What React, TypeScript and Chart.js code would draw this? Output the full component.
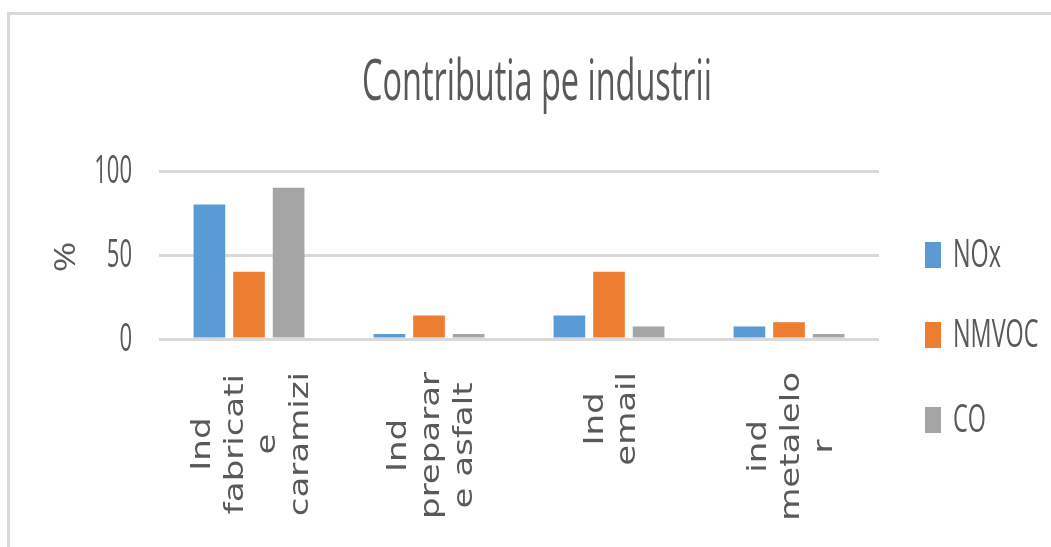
import React, { useEffect, useRef } from "react";
import { Chart, registerables } from "chart.js";

Chart.register(...registerables);

const categories: string[][] = [
  ["Ind", "fabricati", "e", "caramizi"],
  ["Ind", "preparar", "e asfalt"],
  ["Ind", "email"],
  ["ind", "metalelo", "r"],
];
const seriesNames = ["NOx", "NMVOC", "CO"];
const noxValues = [80, 3, 14, 7.5];
const nmvocValues = [40, 14, 40, 10];
const coValues = [90, 3, 7.5, 3];
const yTicks = [0, 50, 100];
const colors = ["#5b9bd5", "#ed7d31", "#a5a5a5"];
const titleText = "Contributia pe industrii";
const yAxisTitle = "%";

const TEXT = "#595959";

const textPlugin = {
  id: "customText",
  afterDraw(chart: any) {
    const ctx = chart.ctx as CanvasRenderingContext2D;
    const yScale = chart.scales.y;
    const xScale = chart.scales.x;
    ctx.save();
    ctx.fillStyle = TEXT;

    // Title (condensed)
    ctx.font = "400 56px 'Open Sans'";
    const tw = ctx.measureText(titleText).width;
    const tsx = 350 / tw;
    ctx.save();
    ctx.translate(537, 100);
    ctx.scale(tsx, 1);
    ctx.textAlign = "center";
    ctx.textBaseline = "alphabetic";
    ctx.fillText(titleText, 0, 0);
    ctx.restore();

    // Y tick labels
    ctx.font = "400 38px 'Open Sans'";
    yTicks.forEach((t) => {
      const py = yScale.getPixelForValue(t);
      ctx.save();
      ctx.translate(132, py);
      ctx.scale(0.58, 1);
      ctx.textAlign = "right";
      ctx.textBaseline = "middle";
      ctx.fillText(String(t), 0, 1);
      ctx.restore();
    });

    // Y axis title
    ctx.save();
    ctx.font = "400 37px 'Open Sans'";
    ctx.translate(67, 0);
    ctx.rotate(-Math.PI / 2);
    ctx.scale(1, 0.8);
    ctx.textAlign = "center";
    ctx.textBaseline = "middle";
    ctx.fillText(yAxisTitle, -257, 0);
    ctx.restore();

    // X labels (rotated, multi-line, centered lines)
    ctx.font = "34px 'DejaVu Sans'";
    const lineGap = 32.7;
    const blockTop = 372;
    categories.forEach((lines, ci) => {
      const cx = xScale.getPixelForValue(ci);
      const maxLen = Math.max(...lines.map((l) => ctx.measureText(l).width));
      const cy = blockTop + maxLen / 2;
      const n = lines.length;
      lines.forEach((line, li) => {
        const bx = cx + (li - (n - 1) / 2) * lineGap + 10;
        ctx.save();
        ctx.translate(bx, 0);
        ctx.rotate(-Math.PI / 2);
        ctx.scale(1, 0.8);
        ctx.textAlign = "center";
        ctx.textBaseline = "alphabetic";
        ctx.fillText(line, -cy, 0);
        ctx.restore();
      });
    });

    // Legend
    const legendY = [255, 335, 420];
    chart.data.datasets.forEach((ds: any, i: number) => {
      ctx.fillStyle = ds.backgroundColor;
      ctx.fillRect(925, legendY[i] - 13, 16, 26);
      ctx.fillStyle = TEXT;
      ctx.save();
      ctx.font = "400 39px 'Open Sans'";
      ctx.translate(953, legendY[i]);
      ctx.scale(0.6, 1);
      ctx.textAlign = "left";
      ctx.textBaseline = "middle";
      ctx.fillText(ds.label, 0, 1);
      ctx.restore();
    });

    ctx.restore();
  },
};

export default function App() {
  const ref = useRef<HTMLCanvasElement | null>(null);
  useEffect(() => {
    document.body.style.margin = "0";
    if (!ref.current) return;
    const chart = new Chart(ref.current, {
      type: "bar",
      data: {
        labels: categories.map((c) => c.join(" ")),
        datasets: [
          { label: seriesNames[0], data: noxValues, backgroundColor: colors[0] },
          { label: seriesNames[1], data: nmvocValues, backgroundColor: colors[1] },
          { label: seriesNames[2], data: coValues, backgroundColor: colors[2] },
        ],
      },
      options: {
        animation: false,
        responsive: false,
        devicePixelRatio: 1,
        layout: { padding: { left: 159, right: 172, top: 171, bottom: 208 } },
        datasets: {
          bar: { categoryPercentage: 0.66, barPercentage: 0.8 },
        },
        plugins: {
          legend: { display: false },
          title: { display: false },
          tooltip: { enabled: false },
        },
        scales: {
          x: {
            ticks: { display: false },
            grid: { display: false, drawTicks: false },
            border: { display: false },
          },
          y: {
            min: 0,
            max: 100,
            ticks: { display: false, stepSize: 50 },
            grid: { color: "#d9d9d9", lineWidth: 3, drawTicks: false },
            border: { display: false },
          },
        },
      },
      plugins: [textPlugin],
    });
    return () => chart.destroy();
  }, []);

  return (
    <div
      style={{
        position: "fixed",
        left: 0,
        top: 0,
        width: 1051,
        height: 547,
        overflow: "hidden",
        background: "#ffffff",
      }}
    >
      <div
        style={{
          position: "absolute",
          left: 7,
          top: 12,
          width: 1100,
          height: 600,
          border: "3px solid #d9d9d9",
        }}
      />
      <canvas
        ref={ref}
        width={1051}
        height={547}
        style={{ position: "absolute", left: 0, top: 0, width: 1051, height: 547 }}
      />
    </div>
  );
}
